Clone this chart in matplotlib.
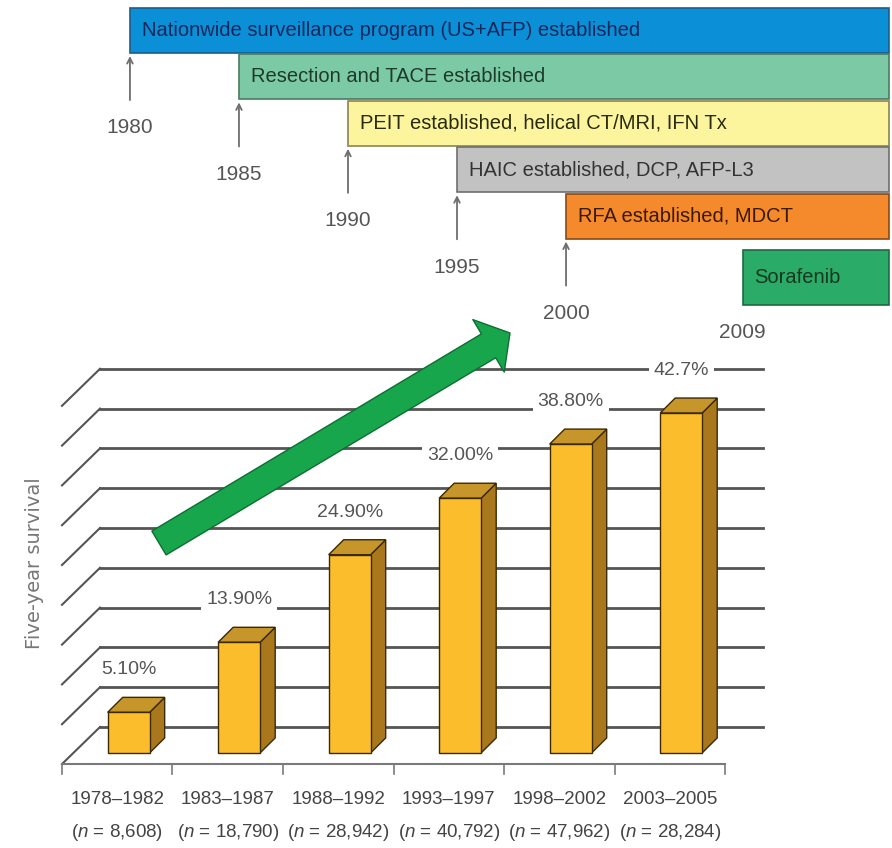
import numpy as np
import matplotlib
matplotlib.use('Agg')
import matplotlib.pyplot as plt
from matplotlib.patches import Rectangle, Polygon, FancyArrowPatch

plt.rcParams['font.family'] = ['Liberation Sans', 'DejaVu Sans']
plt.rcParams['mathtext.fontset'] = 'custom'
plt.rcParams['mathtext.it'] = 'Liberation Sans:italic'
plt.rcParams['mathtext.rm'] = 'Liberation Sans'

# timeline data
milestones = ['Nationwide surveillance program (US+AFP) established',
              'Resection and TACE established',
              'PEIT established, helical CT/MRI, IFN Tx',
              'HAIC established, DCP, AFP-L3',
              'RFA established, MDCT',
              'Sorafenib']
start_years = [1980, 1985, 1990, 1995, 2000, 2008.1]
year_labels = ['1980', '1985', '1990', '1995', '2000', '2009']
end_year = 2014.8

# survival data
periods = ['1978–1982', '1983–1987', '1988–1992', '1993–1997', '1998–2002', '2003–2005']
n_counts = ['8,608', '18,790', '28,942', '40,792', '47,962', '28,284']
survival = [5.1, 13.9, 24.9, 32.0, 38.8, 42.7]
survival_labels = ['5.10%', '13.90%', '24.90%', '32.00%', '38.80%', '42.7%']

box_colors = ['#0b8fd6', '#7ccaa5', '#fcf59e', '#c2c2c2', '#f48a2c', '#2aab67']
edge_colors = ['#1d5d8c', '#4d7a62', '#8a8450', '#6f6f6f', '#8a4a15', '#1d6b41']
text_colors = ['#13285c', '#1f3a2a', '#2a2a10', '#333333', '#3b1a05', '#15391f']

fig = plt.figure(figsize=(8.92, 8.48), dpi=100)

# ---- timeline (top) ----
ax1 = fig.add_axes([0, 0, 1, 1])
ax1.set_xlim(1974.04, 2014.95)
ax1.set_ylim(17.62, -0.657)
ax1.axis('off')

rows = [0, 1, 2, 3, 4, 5.32]
heights = [0.97, 0.97, 0.97, 0.97, 0.97, 1.19]
widths = [end_year - s for s in start_years]
ax1.barh(rows, widths, left=start_years, height=heights, color=box_colors,
         edgecolor=edge_colors, linewidth=1.2, zorder=2)
for i, txt in enumerate(milestones):
    ax1.text(start_years[i] + 0.55, rows[i], txt, ha='left', va='center',
             fontsize=14.5, color=text_colors[i], zorder=3)

for i in range(5):
    ax1.annotate('', xy=(start_years[i], i + 0.55), xytext=(start_years[i], i + 1.5),
                 arrowprops=dict(arrowstyle='->', color='#6e6e6e', lw=1.3,
                                 shrinkA=0, shrinkB=0))
    ax1.text(start_years[i], i + 2.1, year_labels[i], ha='center', va='center',
             fontsize=15, color='#555555')
ax1.text(start_years[5], 6.5, year_labels[5], ha='center', va='center',
         fontsize=15, color='#555555')

# ---- pseudo-3D bar chart (bottom) ----
ax2 = fig.add_axes([0, 0, 1, 1])
ax2.set_xlim(-0.561, 7.511)
ax2.set_ylim(-15.2, 91.33)
ax2.axis('off')

DX, DY = 0.344, 4.65      # floor depth
f = 0.3                   # bar position within depth
ddx, ddy = 0.136, 1.88    # bar depth
bw = 0.38

for g in np.arange(0, 50, 5):
    ax2.plot([DX, 6 + DX], [g, g], color='#555555', lw=2, zorder=1)
    ax2.plot([0, DX], [g - DY, g], color='#555555', lw=1.5, zorder=1)

ax2.plot([0, 6], [-DY, -DY], color='#7a7a7a', lw=1.5, zorder=1)
for k in range(7):
    ax2.plot([k, k], [-DY, -DY - 1.3], color='#7a7a7a', lw=1.2, zorder=1)

for i, v in enumerate(survival):
    xc = i + 0.5 + f * DX
    x0, x1 = xc - bw / 2, xc + bw / 2
    y0 = -DY + f * DY
    y1 = y0 + v
    ax2.add_patch(Polygon([(x1, y0), (x1 + ddx, y0 + ddy), (x1 + ddx, y1 + ddy), (x1, y1)],
                          closed=True, fc='#a9781d', ec='#3b2905', lw=1, zorder=3))
    ax2.add_patch(Polygon([(x0, y1), (x1, y1), (x1 + ddx, y1 + ddy), (x0 + ddx, y1 + ddy)],
                          closed=True, fc='#c7962b', ec='#3b2905', lw=1, zorder=3))
    ax2.add_patch(Rectangle((x0, y0), bw, v, fc='#fcbd2c', ec='#3b2905', lw=1, zorder=4))
    ax2.text(xc, v + 2.1, survival_labels[i], ha='center', va='center', fontsize=14,
             color='#555555', zorder=2,
             bbox=dict(boxstyle='square,pad=0.25', fc='white', ec='none'))
    ax2.text(i + 0.5, -9.05, periods[i], ha='center', va='center', fontsize=13.5,
             color='#444444')
    ax2.text(i + 0.5, -13.3, r'($\mathit{n}$ = ' + n_counts[i] + ')', ha='center',
             va='center', fontsize=13.5, color='#444444')

fig.text(35 / 892, 1 - 563 / 848, 'Five-year survival', rotation=90, ha='center',
         va='center', fontsize=14, color='#777777', family='DejaVu Sans')

# green trend arrow
arrow = FancyArrowPatch((159 / 892, 1 - 543 / 848), (510 / 892, 1 - 333 / 848),
                        transform=fig.transFigure,
                        arrowstyle='simple,head_length=18,head_width=44,tail_width=20',
                        mutation_scale=1, shrinkA=0, shrinkB=0,
                        fc='#17a64b', ec='#0e6e31', lw=1, zorder=5)
fig.patches.append(arrow)

fig.savefig('out.png', dpi=100)
